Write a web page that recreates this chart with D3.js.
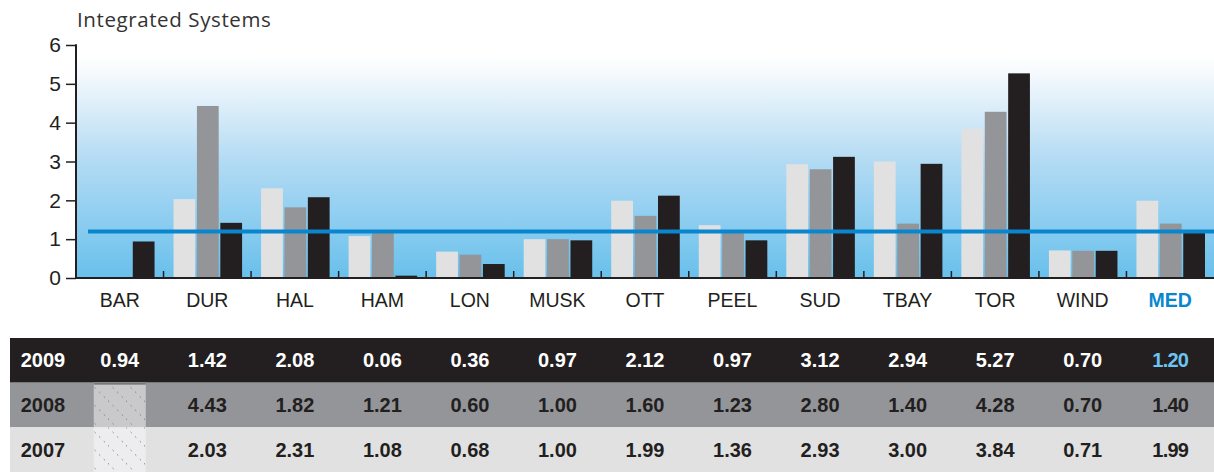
<!DOCTYPE html>
<html>
<head>
<meta charset="utf-8">
<script src="https://cdn.jsdelivr.net/npm/d3@7"></script>
<style>
  html, body { margin: 0; padding: 0; background: #fff; }
  svg { display: block; }
</style>
</head>
<body>
<div id="chart"></div>
<script>
(function () {

const [WIDTH, HEIGHT] = [1214, 472];

// data
const categories = ['BAR', 'DUR', 'HAL', 'HAM', 'LON', 'MUSK', 'OTT', 'PEEL', 'SUD', 'TBAY', 'TOR', 'WIND', 'MED'];
const years = ['2007', '2008', '2009'];
const values2009 = [0.94, 1.42, 2.08, 0.06, 0.36, 0.97, 2.12, 0.97, 3.12, 2.94, 5.27, 0.70, 1.20];
const values2008 = [null, 4.43, 1.82, 1.21, 0.60, 1.00, 1.60, 1.23, 2.80, 1.40, 4.28, 0.70, 1.40];
const values2007 = [null, 2.03, 2.31, 1.08, 0.68, 1.00, 1.99, 1.36, 2.93, 3.00, 3.84, 0.71, 1.99];
const median = 1.20;
const yTicks = [0, 1, 2, 3, 4, 5, 6];

const seriesByYear = { '2007': values2007, '2008': values2008, '2009': values2009 };

const COLORS = {
    '2009': '#231f20',
    '2008': '#939598',
    '2007': '#e1e1e2',
};
const ROW_TEXT = {
    '2009': '#ffffff',
    '2008': '#231f20',
    '2007': '#231f20',
};
const BLUE = '#0a86cf';

const plot = { left: 76, right: 1214, top: 45, bottom: 278 };

const svg = d3.select('#chart').append('svg')
    .attr('width', WIDTH)
    .attr('height', HEIGHT)
    .attr('viewBox', `0 0 ${WIDTH} ${HEIGHT}`);

const defs = svg.append('defs');

const grad = defs.append('linearGradient')
    .attr('id', 'bg')
    .attr('x1', 0).attr('y1', 0).attr('x2', 0).attr('y2', 1);
grad.append('stop').attr('offset', '0%').attr('stop-color', '#ffffff');
grad.append('stop').attr('offset', '8%').attr('stop-color', '#f4f9fd');
grad.append('stop').attr('offset', '45%').attr('stop-color', '#b6dcf4');
grad.append('stop').attr('offset', '100%').attr('stop-color', '#68c0ec');

// dotted diagonal hatch for missing cells
const hatch = defs.append('pattern')
    .attr('id', 'hatch')
    .attr('patternUnits', 'userSpaceOnUse')
    .attr('width', 18).attr('height', 18);
hatch.append('line')
    .attr('x1', 0).attr('y1', 0).attr('x2', 18).attr('y2', 18)
    .attr('stroke', '#7a7a7a').attr('stroke-width', 1)
    .attr('stroke-dasharray', '1.5,5');

const x = d3.scaleBand()
    .domain(categories)
    .range([plot.left, plot.right]);

const xInner = d3.scaleBand()
    .domain(years)
    .range([10, x.bandwidth() - 9])
    .paddingInner(0.07);

const y = d3.scaleLinear()
    .domain([0, 6])
    .range([plot.bottom, plot.top]);

// background
svg.append('rect')
    .attr('x', plot.left)
    .attr('y', y(5.7))
    .attr('width', plot.right - plot.left)
    .attr('height', plot.bottom - y(5.7))
    .attr('fill', 'url(#bg)');

// title
svg.append('text')
    .attr('x', 77)
    .attr('y', 27)
    .attr('font-family', '"Open Sans", sans-serif')
    .attr('font-size', 20.5)
    .attr('letter-spacing', 0.6)
    .attr('fill', '#333')
    .text('Integrated Systems');

// bars
const groups = svg.selectAll('.group')
    .data(categories)
    .enter()
    .append('g')
    .attr('class', 'group')
    .attr('transform', (d) => `translate(${x(d)},0)`);

groups.selectAll('rect')
    .data((d, i) => years.map((yr) => ({ year: yr, value: seriesByYear[yr][i] })))
    .enter()
    .filter((d) => d.value != null)
    .append('rect')
    .attr('x', (d) => xInner(d.year))
    .attr('width', xInner.bandwidth())
    .attr('y', (d) => y(d.value))
    .attr('height', (d) => y(0) - y(d.value))
    .attr('fill', (d) => COLORS[d.year]);

// group separator ticks
svg.selectAll('.sep')
    .data(categories.slice(1))
    .enter()
    .append('line')
    .attr('class', 'sep')
    .attr('x1', (d) => x(d)).attr('x2', (d) => x(d))
    .attr('y1', y(0)).attr('y2', y(0) - 7)
    .attr('stroke', '#231f20')
    .attr('stroke-width', 1.5);

// median line
svg.append('line')
    .attr('x1', 88).attr('x2', plot.right)
    .attr('y1', y(median)).attr('y2', y(median))
    .attr('stroke', BLUE)
    .attr('stroke-width', 4);

// y axis
const yAxis = svg.append('g')
    .attr('transform', `translate(${plot.left},0)`)
    .call(d3.axisLeft(y).tickValues(yTicks).tickSize(10).tickPadding(5).tickFormat(d3.format('d')));
yAxis.select('.domain').remove();
yAxis.selectAll('.tick line').attr('stroke', '#231f20').attr('stroke-width', 1.5);
yAxis.selectAll('.tick text')
    .attr('font-family', 'Arial, "Liberation Sans", sans-serif')
    .attr('font-size', 21)
    .attr('fill', '#231f20');
yAxis.append('line')
    .attr('x1', 0).attr('x2', 0)
    .attr('y1', y(6) - 0.75).attr('y2', y(0))
    .attr('stroke', '#231f20').attr('stroke-width', 2);

// baseline
svg.append('line')
    .attr('x1', plot.left).attr('x2', plot.right)
    .attr('y1', y(0)).attr('y2', y(0))
    .attr('stroke', '#231f20').attr('stroke-width', 2);

// category labels
svg.selectAll('.cat')
    .data(categories)
    .enter()
    .append('text')
    .attr('class', 'cat')
    .attr('x', (d) => x(d) + x.bandwidth() / 2)
    .attr('y', 307)
    .attr('text-anchor', 'middle')
    .attr('font-family', 'Arial, "Liberation Sans", sans-serif')
    .attr('font-size', 19.5)
    .attr('font-weight', (d) => d === 'MED' ? 'bold' : 'normal')
    .attr('fill', (d) => d === 'MED' ? BLUE : '#231f20')
    .text((d) => d);

// table
const rowYears = ['2009', '2008', '2007'];
const rowY = d3.scaleBand()
    .domain(rowYears)
    .range([338, 472]);

const rows = svg.selectAll('.row')
    .data(rowYears)
    .enter()
    .append('g')
    .attr('class', 'row')
    .attr('transform', (d) => `translate(0,${rowY(d)})`);

rows.append('rect')
    .attr('x', 10)
    .attr('width', WIDTH - 10)
    .attr('height', rowY.bandwidth())
    .attr('fill', (d) => COLORS[d]);

// missing cells
rows.filter((d) => d !== '2009')
    .each(function (yr) {
        const g = d3.select(this);
        categories.forEach((c, i) => {
            if (seriesByYear[yr][i] != null) return;
            const cx = x(c) + x.bandwidth() / 2;
            g.append('rect')
                .attr('x', cx - 26).attr('width', 52)
                .attr('height', rowY.bandwidth())
                .attr('fill', yr === '2008' ? '#c9c9cb' : '#ededef');
            g.append('rect')
                .attr('x', cx - 26).attr('width', 52)
                .attr('height', rowY.bandwidth())
                .attr('fill', 'url(#hatch)');
            if (yr === '2008') {
                g.append('rect')
                    .attr('x', cx - 26).attr('width', 52)
                    .attr('height', 2)
                    .attr('fill', '#77787b');
            }
        });
    });

rows.append('text')
    .attr('x', 43)
    .attr('y', rowY.bandwidth() / 2 + 7)
    .attr('text-anchor', 'middle')
    .attr('font-family', 'Arial, "Liberation Sans", sans-serif')
    .attr('font-size', 20)
    .attr('font-weight', 'bold')
    .attr('fill', (d) => ROW_TEXT[d])
    .text((d) => d);

rows.each(function (yr) {
    d3.select(this).selectAll('.val')
        .data(categories.map((c, i) => ({ cat: c, value: seriesByYear[yr][i] }))
            .filter((d) => d.value != null))
        .enter()
        .append('text')
        .attr('class', 'val')
        .attr('x', (d) => x(d.cat) + x.bandwidth() / 2)
        .attr('y', rowY.bandwidth() / 2 + 7)
        .attr('text-anchor', 'middle')
        .attr('font-family', 'Arial, "Liberation Sans", sans-serif')
        .attr('font-size', 20)
        .attr('font-weight', 'bold')
        .attr('letter-spacing', (d) => d.cat === 'MED' ? -0.8 : 0)
        .attr('fill', (d) => (d.cat === 'MED' && yr === '2009') ? '#6cc5f0' : ROW_TEXT[yr])
        .text((d) => d.value.toFixed(2));
});

})();
</script>
</body>
</html>
